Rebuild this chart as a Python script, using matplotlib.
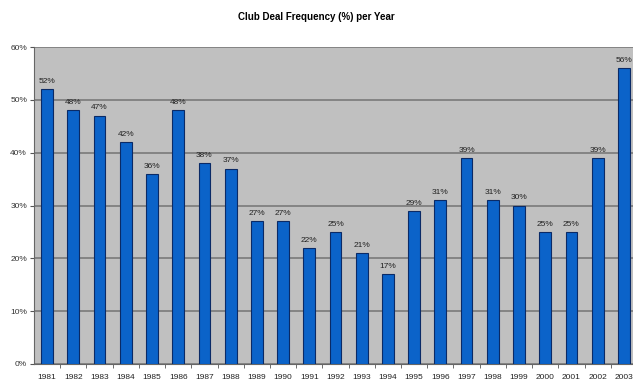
import numpy as np
from matplotlib import pyplot as plt

years = [str(y) for y in range(1981, 2004)]
freq = [52, 48, 47, 42, 36, 48, 38, 37, 27, 27, 22, 25, 21, 17,
        29, 31, 39, 31, 30, 25, 25, 39, 56]
y_ticks = [0, 10, 20, 30, 40, 50, 60]

plt.rcParams["font.family"] = ["Liberation Sans", "DejaVu Sans"]

fig = plt.figure(figsize=(6.33, 3.8), dpi=100)
ax = fig.add_axes([34 / 633, 16 / 380, 603 / 633, 317 / 380])
ax.set_facecolor("#c0c0c0")

x = np.arange(len(years))
ax.bar(x, freq, width=0.45, color="#0b63c9", edgecolor="#0a2a66", linewidth=0.8, zorder=3)
for xi, v in zip(x, freq):
    ax.text(xi, v + 0.8, "%d%%" % v, ha="center", va="bottom", fontsize=6, color="#222222", zorder=4)

ax.set_xlim(-0.5, len(years) - 0.5)
ax.set_ylim(0, 60)
ax.set_yticks(y_ticks)
ax.set_yticklabels(["%d%%" % t for t in y_ticks], fontsize=6, color="#333333")
ax.yaxis.grid(True, color="#7a7a7a", linewidth=1.2, zorder=1)
ax.set_xticks(x)
ax.set_xticklabels(years, fontsize=6, color="#222222")
ax.set_xticks(x[:-1] + 0.5, minor=True)
ax.tick_params(axis="x", which="major", length=0, pad=7)
ax.tick_params(axis="x", which="minor", length=3, color="#555555", direction="out")
ax.tick_params(axis="y", length=3, color="#555555", pad=2)

for side in ["top", "right"]:
    ax.spines[side].set_visible(False)
ax.spines["left"].set_color("#666666")
ax.spines["bottom"].set_color("#666666")

fig.text(316 / 633, 1 - 17 / 380, "Club Deal Frequency (%) per Year",
         ha="center", va="center", fontsize=7, fontweight="bold")

fig.savefig("out.png", dpi=100)
